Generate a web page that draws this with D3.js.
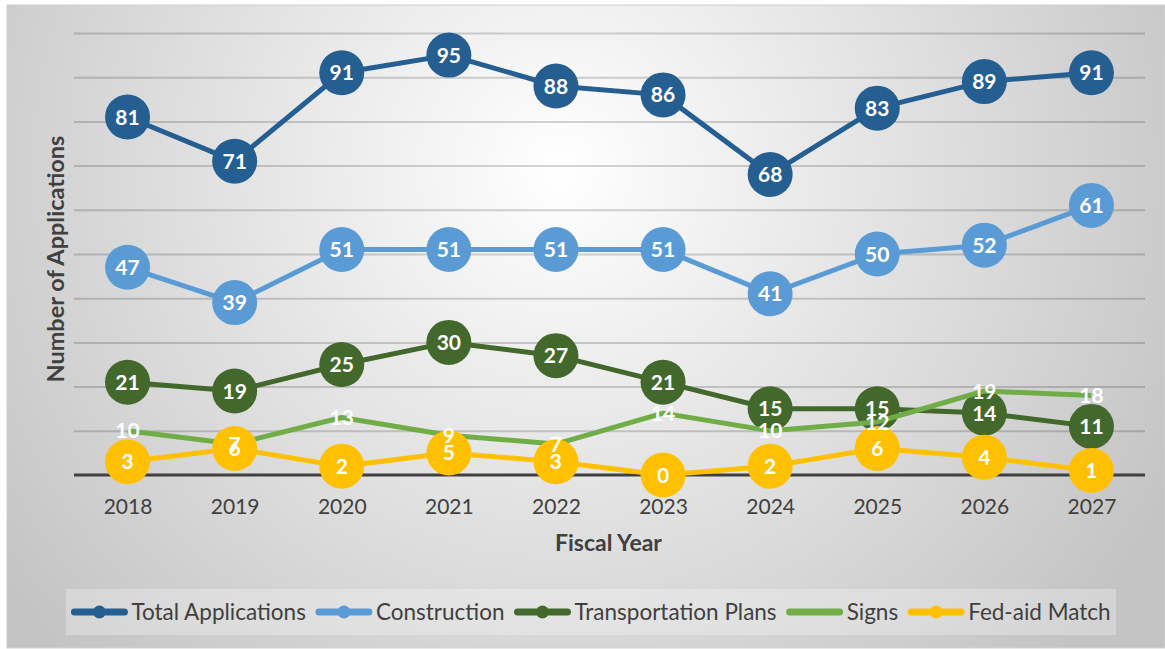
<!DOCTYPE html>
<html>
<head>
<meta charset="utf-8">
<script src="https://cdn.jsdelivr.net/npm/d3@7"></script>
<style>
  html, body { margin: 0; padding: 0; background: #ffffff; }
  svg { display: block; }
</style>
</head>
<body>
<svg id="chart" width="1165" height="649"></svg>
<script>
const years = ["2018","2019","2020","2021","2022","2023","2024","2025","2026","2027"];
const totalApplications = [81, 71, 91, 95, 88, 86, 68, 83, 89, 91];
const construction = [47, 39, 51, 51, 51, 51, 41, 50, 52, 61];
const transportationPlans = [21, 19, 25, 30, 27, 21, 15, 15, 14, 11];
const signs = [10, 7, 13, 9, 7, 14, 10, 12, 19, 18];
const fedAidMatch = [3, 6, 2, 5, 3, 0, 2, 6, 4, 1];
const yTicks = [0, 10, 20, 30, 40, 50, 60, 70, 80, 90, 100];

const seriesNames = ["Total Applications", "Construction", "Transportation Plans", "Signs", "Fed-aid Match"];
const seriesValues = [totalApplications, construction, transportationPlans, signs, fedAidMatch];
const seriesColors = ["#255e91", "#5b9bd5", "#43682b", "#70ad47", "#ffc000"];
const seriesMarkers = [true, true, true, false, true];

const series = seriesNames.map((name, i) => ({
  name, color: seriesColors[i], marker: seriesMarkers[i],
  values: seriesValues[i].map((v, j) => ({ year: years[j], value: v }))
}));

const svg = d3.select("#chart");
const W = 1165, H = 649;
const font = "Lato, 'Open Sans', sans-serif";

// background
const defs = svg.append("defs");
const grad = defs.append("radialGradient").attr("id", "bg")
  .attr("gradientUnits", "userSpaceOnUse")
  .attr("cx", 560).attr("cy", 170).attr("r", 700);
grad.append("stop").attr("offset", "0").attr("stop-color", "#ffffff");
grad.append("stop").attr("offset", "0.45").attr("stop-color", "#e4e4e4");
grad.append("stop").attr("offset", "1").attr("stop-color", "#c3c3c3");

svg.append("rect").attr("x", 7).attr("y", 5).attr("width", W - 7).attr("height", H - 6)
  .attr("fill", "url(#bg)").attr("stroke", "#d0d0d0").attr("stroke-width", 1);

const plot = { left: 74, right: 1145, top: 33, bottom: 475 };

const x = d3.scalePoint().domain(years).range([plot.left, plot.right]).padding(0.5);
const y = d3.scaleLinear().domain([0, 100]).range([plot.bottom, plot.top]);

// gridlines
const yAxis = d3.axisLeft(y).tickValues(yTicks.filter(t => t > 0))
  .tickSize(-(plot.right - plot.left)).tickFormat("");
const gy = svg.append("g").attr("transform", `translate(${plot.left},0)`).call(yAxis);
gy.select(".domain").remove();
gy.selectAll(".tick line").attr("stroke", "#000").attr("stroke-opacity", 0.17).attr("stroke-width", 2);

// x axis
const xAxis = d3.axisBottom(x).tickSize(0).tickPadding(24);
const gx = svg.append("g").attr("transform", `translate(0,${y(0)})`).call(xAxis);
gx.select(".domain").remove();
gx.selectAll(".tick text").attr("font-family", font).attr("font-size", 21)
  .attr("fill", "#404040");
svg.append("line")
  .attr("x1", plot.left).attr("x2", plot.right)
  .attr("y1", y(0)).attr("y2", y(0))
  .attr("stroke", "#404040").attr("stroke-width", 3);

// axis titles
svg.append("text")
  .attr("transform", `translate(64,259) rotate(-90)`)
  .attr("text-anchor", "middle")
  .attr("font-family", font).attr("font-weight", "bold").attr("font-size", 23.5)
  .attr("fill", "#404040").text("Number of Applications");
svg.append("text")
  .attr("x", (plot.left + plot.right) / 2 - 1).attr("y", 551)
  .attr("text-anchor", "middle")
  .attr("font-family", font).attr("font-weight", "bold").attr("font-size", 23)
  .attr("fill", "#404040").text("Fiscal Year");

// lines
const line = d3.line().x(d => x(d.year)).y(d => y(d.value));
const gSeries = svg.append("g");
series.forEach(s => {
  const g = gSeries.append("g");
  g.append("path").datum(s.values).attr("d", line)
    .attr("fill", "none").attr("stroke", s.color).attr("stroke-width", 5)
    .attr("stroke-linejoin", "round");
  if (s.marker) {
    g.selectAll("circle").data(s.values).join("circle")
      .attr("cx", d => x(d.year)).attr("cy", d => y(d.value)).attr("r", 22.5)
      .attr("fill", s.color);
  }
});

// labels on top
const gLabels = svg.append("g");
series.forEach(s => {
  gLabels.append("g").selectAll("text").data(s.values).join("text")
    .attr("x", d => x(d.year)).attr("y", d => y(d.value))
    .attr("dy", "0.36em").attr("text-anchor", "middle")
    .attr("font-family", font).attr("font-weight", "bold").attr("font-size", 21)
    .attr("fill", "#ffffff").text(d => d.value);
});

// legend
const legBox = { x: 66, y: 589, w: 1050, h: 46 };
svg.append("rect").attr("x", legBox.x).attr("y", legBox.y)
  .attr("width", legBox.w).attr("height", legBox.h)
  .attr("fill", "#ffffff").attr("fill-opacity", 0.28);
const leg = svg.append("g");
let cx = 0;
const cy = legBox.y + legBox.h / 2;
series.forEach(s => {
  const item = leg.append("g").attr("transform", `translate(${cx},0)`);
  item.append("line").attr("x1", 3).attr("x2", 53).attr("y1", cy).attr("y2", cy)
    .attr("stroke", s.color).attr("stroke-width", 7).attr("stroke-linecap", "round");
  if (s.marker) item.append("circle").attr("cx", 28).attr("cy", cy).attr("r", 6.5).attr("fill", s.color);
  const t = item.append("text").attr("x", 60).attr("y", cy).attr("dy", "0.35em")
    .attr("font-family", font).attr("font-size", 22.5).attr("fill", "#404040").text(s.name);
  cx += 60 + t.node().getComputedTextLength() + 10;
});
const legW = cx - 10;
leg.attr("transform", `translate(${legBox.x + (legBox.w - legW) / 2},0)`);
</script>
</body>
</html>
